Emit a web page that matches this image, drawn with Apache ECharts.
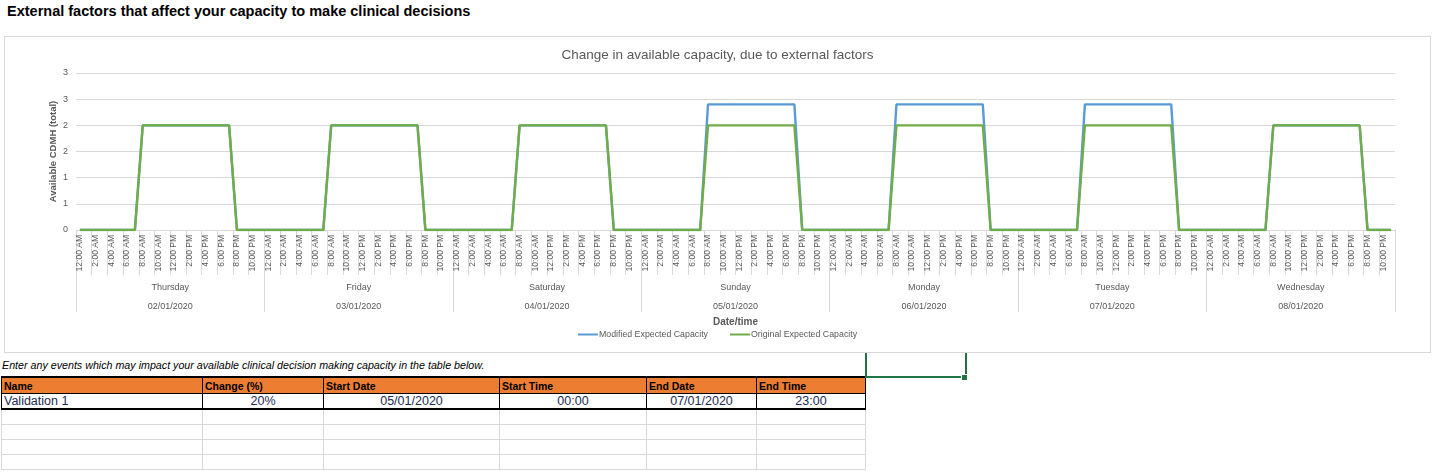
<!DOCTYPE html>
<html>
<head>
<meta charset="utf-8">
<script src="https://cdn.jsdelivr.net/npm/echarts@6/dist/echarts.min.js"></script>
<style>
  html, body { margin:0; padding:0; background:#fff; width:1444px; height:474px; overflow:hidden; font-family:"Liberation Sans", Arial, sans-serif; }
  #pageTitle { position:absolute; left:7px; top:3px; font-size:14.5px; font-weight:bold; color:#000; white-space:nowrap; }
  #chartBox { position:absolute; left:4px; top:36px; width:1427px; height:317px; box-sizing:border-box; border:1px solid #d9d9d9; background:#fff; z-index:2; }
  #chart { width:100%; height:100%; }
  #note { position:absolute; left:2px; top:359px; font-size:10.7px; font-style:italic; color:#000; white-space:nowrap; }
  #sel { position:absolute; left:865px; top:345px; width:98px; height:31px; border-left:2px solid #217346; border-right:2px solid #217346; border-bottom:2px solid #217346; z-index:1; }
  #handle { position:absolute; left:961px; top:374px; width:5px; height:5px; background:#217346; border:1px solid #fff; z-index:3; }
  table { position:absolute; left:1px; top:376px; border-collapse:collapse; table-layout:fixed; }
  td, th { padding:0 2px; white-space:nowrap; overflow:hidden; }
  th { background:#ED7D31; font-size:10.5px; font-weight:bold; text-align:left; height:15px; border:1px solid #000; color:#000; }
  tr.hdr th { border-top:2px solid #000; }
  tr.first td { height:14px; font-size:12.5px; border:1px solid #000; border-bottom:2px solid #000; color:#1b2b4f; }
  tr.empty td { height:14px; border:1px solid #d9d9d9; }
</style>
</head>
<body>
<div id="pageTitle">External factors that affect your capacity to make clinical decisions</div>
<div id="chartBox"><div id="chart"></div></div>
<div id="note">Enter any events which may impact your available clinical decision making capacity in the table below.</div>
<div id="sel"></div><div id="handle"></div>
<table id="tbl"></table>
<script>
// ---------- DATA ----------
const days = ['Thursday','Friday','Saturday','Sunday','Monday','Tuesday','Wednesday'];
const dates = ['02/01/2020','03/01/2020','04/01/2020','05/01/2020','06/01/2020','07/01/2020','08/01/2020'];
const hourLabels = ['12:00 AM','1:00 AM','2:00 AM','3:00 AM','4:00 AM','5:00 AM','6:00 AM','7:00 AM',
  '8:00 AM','9:00 AM','10:00 AM','11:00 AM','12:00 PM','1:00 PM','2:00 PM','3:00 PM',
  '4:00 PM','5:00 PM','6:00 PM','7:00 PM','8:00 PM','9:00 PM','10:00 PM','11:00 PM'];
const yTicks = [0, 0.5, 1, 1.5, 2, 2.5, 3];

const modifiedCapacity = [
  0,0,0,0,0,0,0,0,2,2,2,2,2,2,2,2,2,2,2,2,0,0,0,0,              // Thu
  0,0,0,0,0,0,0,0,2,2,2,2,2,2,2,2,2,2,2,2,0,0,0,0,              // Fri
  0,0,0,0,0,0,0,0,2,2,2,2,2,2,2,2,2,2,2,2,0,0,0,0,              // Sat
  0,0,0,0,0,0,0,0,2.4,2.4,2.4,2.4,2.4,2.4,2.4,2.4,2.4,2.4,2.4,2.4,0,0,0,0, // Sun
  0,0,0,0,0,0,0,0,2.4,2.4,2.4,2.4,2.4,2.4,2.4,2.4,2.4,2.4,2.4,2.4,0,0,0,0, // Mon
  0,0,0,0,0,0,0,0,2.4,2.4,2.4,2.4,2.4,2.4,2.4,2.4,2.4,2.4,2.4,2.4,0,0,0,0, // Tue
  0,0,0,0,0,0,0,0,2,2,2,2,2,2,2,2,2,2,2,2,0,0,0,0               // Wed
];
const originalCapacity = [
  0,0,0,0,0,0,0,0,2,2,2,2,2,2,2,2,2,2,2,2,0,0,0,0,              // Thu
  0,0,0,0,0,0,0,0,2,2,2,2,2,2,2,2,2,2,2,2,0,0,0,0,              // Fri
  0,0,0,0,0,0,0,0,2,2,2,2,2,2,2,2,2,2,2,2,0,0,0,0,              // Sat
  0,0,0,0,0,0,0,0,2,2,2,2,2,2,2,2,2,2,2,2,0,0,0,0,              // Sun
  0,0,0,0,0,0,0,0,2,2,2,2,2,2,2,2,2,2,2,2,0,0,0,0,              // Mon
  0,0,0,0,0,0,0,0,2,2,2,2,2,2,2,2,2,2,2,2,0,0,0,0,              // Tue
  0,0,0,0,0,0,0,0,2,2,2,2,2,2,2,2,2,2,2,2,0,0,0,0               // Wed
];

const tableHeaders = ['Name','Change (%)','Start Date','Start Time','End Date','End Time'];
const tableRow = ['Validation 1','20%','05/01/2020','00:00','07/01/2020','23:00'];
const tableAlign = ['left','center','center','center','center','center'];
const colWidths = [201,121,176,147,110,109];
const emptyRows = 4;

// ---------- TABLE ----------
(function(){
  const t = document.getElementById('tbl');
  let h = '<colgroup>' + colWidths.map(w => `<col style="width:${w}px">`).join('') + '</colgroup>';
  h += '<tr class="hdr">' + tableHeaders.map(x => `<th>${x}</th>`).join('') + '</tr>';
  h += '<tr class="first">' + tableRow.map((x,i) => `<td style="text-align:${tableAlign[i]}">${x}</td>`).join('') + '</tr>';
  for (let r = 0; r < emptyRows; r++) h += '<tr class="empty">' + colWidths.map(() => '<td></td>').join('') + '</tr>';
  t.innerHTML = h;
})();

// ---------- CHART ----------
const categories = [];
days.forEach(d => hourLabels.forEach(hl => categories.push(d + '|' + hl)));

const FONT = '"Liberation Sans", Arial, sans-serif';
const GRAY = '#595959';
const LINE = '#d9d9d9';

const chart = echarts.init(document.getElementById('chart'), null, {renderer:'canvas'});
chart.setOption({
  animation: false,
  textStyle: { fontFamily: FONT },
  title: {
    text: 'Change in available capacity, due to external factors',
    left: 'center', top: 6,
    textStyle: { fontSize: 13.5, fontWeight: 'normal', color: GRAY, fontFamily: FONT }
  },
  legend: {
    data: ['Modified Expected Capacity', 'Original Expected Capacity'],
    left: 'center', top: 288,
    icon: 'rect', itemWidth: 20, itemHeight: 2, itemGap: 22,
    textStyle: { fontSize: 8.8, color: GRAY, fontFamily: FONT, padding: [0,0,0,-4] }
  },
  grid: { left: 71, right: 35, top: 36, bottom: 122, containLabel: false, outerBoundsMode: 'none' },
  xAxis: [
    {
      type: 'category', position: 'bottom', data: categories, boundaryGap: true,
      axisLine: { show: true, lineStyle: { color: LINE, width: 1 } },
      axisTick: { show: true, interval: 1, length: 45, lineStyle: { color: LINE } },
      axisLabel: {
        interval: 1, rotate: 90, margin: 5, fontSize: 8.5, color: GRAY, fontFamily: FONT,
        formatter: v => v.split('|')[1]
      },
      splitLine: { show: false }
    },
    {
      type: 'category', position: 'bottom', data: days, boundaryGap: true,
      axisLine: { show: false },
      axisTick: { show: true, length: 82, lineStyle: { color: LINE } },
      axisLabel: {
        interval: 0, margin: 48, color: GRAY,
        formatter: (v, i) => '{d|' + v + '}\n{t|' + dates[i] + '}',
        rich: {
          d: { fontSize: 9, color: GRAY, lineHeight: 19, fontFamily: FONT },
          t: { fontSize: 9, color: GRAY, lineHeight: 19, fontFamily: FONT }
        }
      },
      name: 'Date/time', nameLocation: 'middle', nameGap: 87,
      nameTextStyle: { fontSize: 10, fontWeight: 'bold', color: GRAY, fontFamily: FONT }
    }
  ],
  yAxis: {
    type: 'value', min: yTicks[0], max: yTicks[yTicks.length - 1], interval: yTicks[1] - yTicks[0],
    axisLine: { show: false }, axisTick: { show: false },
    axisLabel: { margin: 8, fontSize: 9, color: GRAY, fontFamily: FONT, formatter: v => String(Math.round(v)) },
    splitLine: { lineStyle: { color: LINE, width: 1 } },
    name: 'Available CDMH (total)', nameLocation: 'middle', nameGap: 18, nameMoveOverlap: false,
    nameTextStyle: { fontSize: 9.5, fontWeight: 'bold', color: GRAY, fontFamily: FONT }
  },
  series: [
    {
      name: 'Modified Expected Capacity', type: 'line', xAxisIndex: 0, data: modifiedCapacity,
      symbol: 'none', lineStyle: { color: '#5B9BD5', width: 2.4 }, itemStyle: { color: '#5B9BD5' }
    },
    {
      name: 'Original Expected Capacity', type: 'line', xAxisIndex: 0, data: originalCapacity,
      symbol: 'none', lineStyle: { color: '#70AD47', width: 2.4 }, itemStyle: { color: '#70AD47' }
    }
  ]
});
</script>
</body>
</html>
